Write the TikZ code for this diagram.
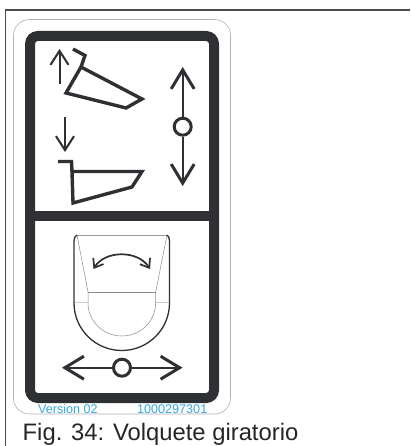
\documentclass[tikz,border=0pt]{standalone}
\usepackage{fontspec}
\setmainfont{Liberation Sans}
\usetikzlibrary{arrows.meta, positioning, calc}

\definecolor{labeldark}{HTML}{2E3033}
\definecolor{labelcyan}{HTML}{35A8DC}

\begin{document}
\begin{tikzpicture}[
		x=1pt, y=-1pt,
		page_line/.style={draw=black!70, line width=1.2pt},
		sticker_line/.style={draw=black!30, line width=0.6pt},
		frame_line/.style={draw=labeldark, line width=10pt},
		bucket_line/.style={draw=labeldark, line width=3.4pt, miter limit=10},
		thin_line/.style={draw=black!45, line width=0.5pt},
		pale_line/.style={draw=black!20, line width=0.8pt},
		bowl_line/.style={draw=labeldark, line width=1.3pt},
		small_arrow/.style={draw=labeldark, line width=2pt, -{Straight Barb[length=14pt, width=18pt, line width=2pt]}},
		big_arrow/.style={draw=labeldark, line width=2.4pt, -{Straight Barb[length=19pt, width=23pt, line width=3pt]}},
		swing_arrow/.style={draw=labeldark, line width=1.7pt, {Straight Barb[length=8pt, width=12pt, line width=1.7pt]}-{Straight Barb[length=8pt, width=12pt, line width=1.7pt]}},
		hub/.style={circle, draw=labeldark, fill=white, line width=3pt, minimum size=17pt, inner sep=0pt},
		sticker_text/.style={text=labelcyan, font=\fontsize{12.6}{14}\selectfont, inner sep=0pt, anchor=base west}
	]
	\useasboundingbox (0,0) rectangle (410,446);
	\fill[white] (0,0) rectangle (410,446);

	% Page border
	\draw [page_line] (5.5,446) -- (5.5,10) -- (410,10);

	% Sticker outline
	\draw [sticker_line, rounded corners=16pt] (13.5,19.5) rectangle (230.5,414);

	% Black frame with divider
	\draw [frame_line, rounded corners=8pt] (30,36) rectangle (214,398);
	\draw [frame_line] (30,216) -- (214,216);

	% Tipped bucket
	\draw [bucket_line] (81,67) -- (142,99) -- (126,108) -- (66,93) -- cycle;
	\draw [bucket_line] (81,67) -- (85,55.5) -- (73,49);

	% Level bucket
	\draw [bucket_line] (72,171.5) -- (142,171.5) -- (132,187) -- (73,203) -- cycle;
	\draw [bucket_line] (72,171.5) -- (71.5,161.5) -- (58,161.5);

	% Small arrows
	\coordinate (up_start) at (59.5,84);
	\coordinate (up_end) at (59.5,49);
	\coordinate (down_start) at (65,117);
	\coordinate (down_end) at (65,152);
	\path [small_arrow] (up_start) -- (up_end);
	\path [small_arrow] (down_start) -- (down_end);

	% Lever up and down
	\node [hub] (hub_lift) at (182.7,126.7) {};
	\coordinate (lift_top) at (182.7,67);
	\coordinate (lift_bottom) at (182.7,186);
	\path [big_arrow] (hub_lift) -- (lift_top);
	\path [big_arrow] (hub_lift) -- (lift_bottom);

	% Swivel bucket from above
	\draw [thin_line] (77,235) -- (88,292) -- (88,303) arc[start angle=180, end angle=360, x radius=33.8, y radius=-33] -- (155.7,292) -- (167,235);
	\draw [thin_line] (88,292) -- (155.7,292);
	\draw [pale_line] (74,302.5) -- (88,302.5) (155.7,302.5) -- (169.5,302.5);
	\draw [thin_line, draw=black!40, line width=0.7pt] (77,235) -- (167,235);
	\draw [bowl_line] (77,235) .. controls (75,236) and (74,238) .. (74,241) -- (74,303) arc[start angle=180, end angle=360, x radius=47.75, y radius=-47.5] -- (169.5,241) .. controls (169.5,238) and (168.5,236) .. (167,235);

	% Swing arrow
	\coordinate (swing_left) at (93.5,269);
	\coordinate (swing_right) at (150,269);
	\path [swing_arrow] (swing_left) .. controls (105,250) and (138,250) .. (swing_right);

	% Lever left and right
	\node [hub] (hub_swing) at (122,367.7) {};
	\coordinate (swing_west) at (62,367.7);
	\coordinate (swing_east) at (182.5,367.7);
	\path [big_arrow] (hub_swing) -- (swing_west);
	\path [big_arrow] (hub_swing) -- (swing_east);

	% Sticker texts
	\node [sticker_text] (version) at (38,413) {Version 02};
	\node [sticker_text] (part_no) at (137,413) {1000297301};

	% Caption
	\node [anchor=base west, inner sep=0pt, text=black!85, font=\fontsize{23.8}{26}\selectfont] (caption) at (22.5,440.6) {Fig. 34: Volquete giratorio};
\end{tikzpicture}
\end{document}
